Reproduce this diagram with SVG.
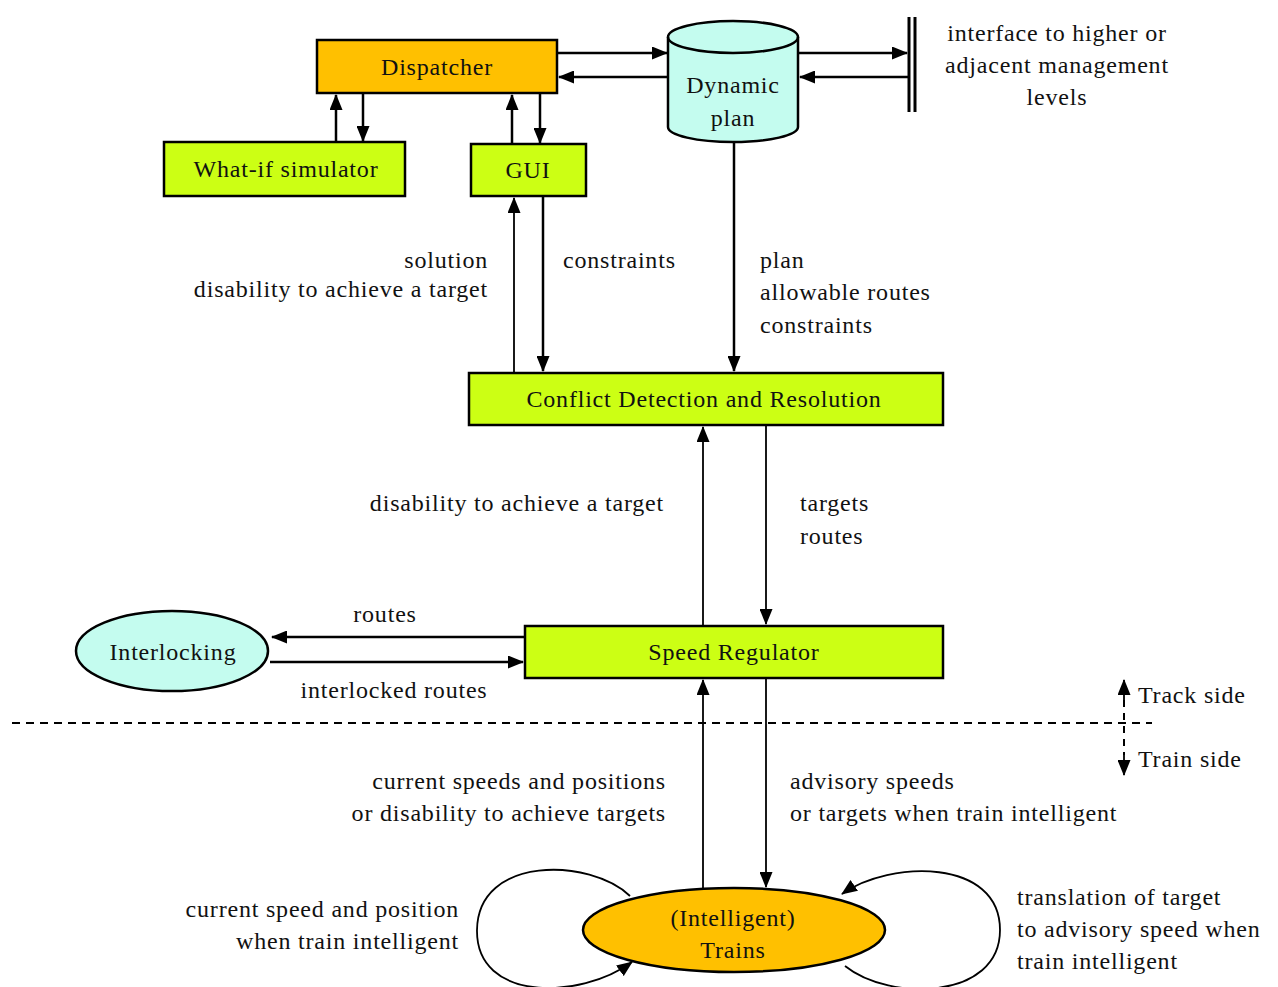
<svg xmlns="http://www.w3.org/2000/svg" width="1278" height="987" viewBox="0 0 1278 987">
<defs>
<marker id="ah" viewBox="0 0 16 13" refX="15" refY="6.5" markerWidth="16" markerHeight="13" markerUnits="userSpaceOnUse" orient="auto"><path d="M0,0 L16,6.5 L0,13 Z" fill="#000"/></marker>
<style>
text{font-family:"Liberation Serif","Times New Roman",serif;font-size:24px;fill:#111;letter-spacing:0.8px}
.m{text-anchor:middle}
.e{text-anchor:end}
.box{stroke:#000;stroke-width:2.5}
.g{fill:#CCFF14}
.o{fill:#FFC000}
.c{fill:#C4FCEF}
.a{fill:none;stroke:#000;stroke-width:2.5;marker-end:url(#ah)}
.t{fill:none;stroke:#000;stroke-width:1.8;marker-end:url(#ah)}
</style>
</defs>
<rect width="1278" height="987" fill="#fff"/>
<g id="connectors">
<line class="a" x1="557" y1="53" x2="667" y2="53"/>
<line class="a" x1="668" y1="77" x2="559" y2="77"/>
<line class="a" x1="798" y1="53" x2="907" y2="53"/>
<line class="a" x1="908" y1="77" x2="800" y2="77"/>
<line class="a" x1="336" y1="142" x2="336" y2="95"/>
<line class="a" x1="363" y1="93" x2="363" y2="141"/>
<line class="a" x1="512" y1="144" x2="512" y2="95"/>
<line class="a" x1="540" y1="93" x2="540" y2="143"/>
<line class="t" x1="514" y1="373" x2="514" y2="198"/>
<line class="a" x1="543" y1="196" x2="543" y2="371"/>
<line class="a" x1="734" y1="142" x2="734" y2="371"/>
<line class="t" x1="703" y1="626" x2="703" y2="427"/>
<line class="t" x1="766" y1="425" x2="766" y2="624"/>
<line class="a" x1="525" y1="637" x2="272" y2="637"/>
<line class="a" x1="270" y1="662" x2="523" y2="662"/>
<line class="t" x1="703" y1="889" x2="703" y2="680"/>
<line class="t" x1="766" y1="678" x2="766" y2="887"/>
<path class="t" d="M630,896 C590,858 478,855 477,930 C476,1002 580,1000 632,962"/>
<path class="t" d="M845,966 C890,1002 1000,1000 1000,930 C1000,858 890,860 842,894"/>
<line x1="12" y1="723" x2="1152" y2="723" stroke="#000" stroke-width="2" stroke-dasharray="8,6"/>
<line x1="1124" y1="700" x2="1124" y2="755" stroke="#000" stroke-width="2" stroke-dasharray="7,6"/>
<line class="t" x1="1124" y1="700" x2="1124" y2="680"/>
<line class="t" x1="1124" y1="755" x2="1124" y2="775"/>
<line x1="909" y1="17" x2="909" y2="112" stroke="#000" stroke-width="3"/>
<line x1="915" y1="17" x2="915" y2="112" stroke="#000" stroke-width="3"/>
</g>
<g id="dispatcher"><rect class="box o" x="317" y="40" width="240" height="53"/><text class="m" x="437" y="75">Dispatcher</text></g>
<g id="whatif"><rect class="box g" x="164" y="142" width="241" height="54"/><text class="m" x="286" y="177">What-if simulator</text></g>
<g id="gui"><rect class="box g" x="471" y="144" width="115" height="52"/><text class="m" x="528" y="178">GUI</text></g>
<g id="dynamicplan">
<path class="box c" d="M668,37 L668,127 A65,15 0 0 0 798,127 L798,37 A65,16 0 0 0 668,37 Z"/>
<path class="box" fill="none" d="M668,37 A65,16 0 0 0 798,37"/>
<text class="m" x="733" y="93">Dynamic</text><text class="m" x="733" y="126">plan</text>
</g>
<g id="interface">
<text class="m" x="1057" y="41">interface to higher or</text>
<text class="m" x="1057" y="73">adjacent management</text>
<text class="m" x="1057" y="105">levels</text>
</g>
<g id="cdr"><rect class="box g" x="469" y="373" width="474" height="52"/><text class="m" x="704" y="407">Conflict Detection and Resolution</text></g>
<g id="speedregulator"><rect class="box g" x="525" y="626" width="418" height="52"/><text class="m" x="734" y="660">Speed Regulator</text></g>
<g id="interlocking"><ellipse class="box c" cx="172" cy="651" rx="96" ry="40"/><text class="m" x="173" y="660">Interlocking</text></g>
<g id="trains"><ellipse class="box o" cx="734" cy="930" rx="151" ry="42"/><text class="m" x="733" y="926">(Intelligent)</text><text class="m" x="733" y="958">Trains</text></g>
<g id="labels">
<text class="e" x="488" y="268">solution</text>
<text class="e" x="488" y="297">disability to achieve a target</text>
<text x="563" y="268">constraints</text>
<text x="760" y="268">plan</text>
<text x="760" y="300">allowable routes</text>
<text x="760" y="333">constraints</text>
<text class="e" x="664" y="511">disability to achieve a target</text>
<text x="800" y="511">targets</text>
<text x="800" y="544">routes</text>
<text class="m" x="385" y="622">routes</text>
<text class="m" x="394" y="698">interlocked routes</text>
<text x="1138" y="703">Track side</text>
<text x="1138" y="767">Train side</text>
<text class="e" x="666" y="789">current speeds and positions</text>
<text class="e" x="666" y="821">or disability to achieve targets</text>
<text x="790" y="789">advisory speeds</text>
<text x="790" y="821">or targets when train intelligent</text>
<text class="e" x="459" y="917">current speed and position</text>
<text class="e" x="459" y="949">when train intelligent</text>
<text x="1017" y="905">translation of target</text>
<text x="1017" y="937">to advisory speed when</text>
<text x="1017" y="969">train intelligent</text>
</g>
</svg>
